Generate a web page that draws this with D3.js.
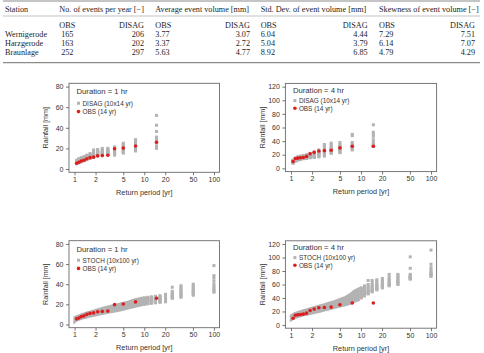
<!DOCTYPE html>
<html lang="en">
<head>
<meta charset="utf-8">
<title>Event statistics and return periods</title>
<style>
  body { margin: 0; background: #fff; }
  svg { display: block; }
  .tab text { font-family: "Liberation Serif", "Times New Roman", serif; font-size: 8.2px; fill: #1e1e1e; }
  .plt text { font-family: "Liberation Sans", Arial, sans-serif; fill: #333; }
</style>
<script src="https://d3js.org/d3.v7.min.js"></script>
</head>
<body>
<script>
// ---- table data ----
let stations = ["Wernigerode", "Harzgerode", "Braunlage"]
let statHeaders = ["No. of events per year [−]", "Average event volume [mm]", "Std. Dev. of event volume [mm]", "Skewness of event volume [−]"]
let nEventsObs = [165, 163, 252]
let nEventsDisag = [206, 202, 297]
let avgObs = [3.77, 3.37, 5.63]
let avgDisag = [3.07, 2.72, 4.77]
let sdObs = [6.04, 5.04, 8.92]
let sdDisag = [4.44, 3.79, 6.85]
let skewObs = [7.29, 6.14, 4.79]
let skewDisag = [7.51, 7.07, 4.29]

// ---- plot data ----
let xTicks = [1, 2, 5, 10, 20, 50, 100]
let yTicks80 = [0, 20, 40, 60, 80]
let yTicks120 = [0, 20, 40, 60, 80, 100, 120]

// return periods of the 14 observed years
let obsT = [15, 7.5, 5, 3.75, 3, 2.5, 2.143, 1.875, 1.667, 1.5, 1.364, 1.25, 1.154, 1.071]
let obs1h = [26, 22.4, 20.3, 19.7, 13.3, 13, 12.7, 11.5, 11, 10, 8.5, 7.8, 6.5, 5.6]
let obs4h = [32.5, 32.5, 30, 26.5, 26, 25.5, 23.5, 21.5, 17.5, 16, 15.5, 15, 14.5, 10]

// DISAG, 10 realisations per return period
let disag1h = [
  [52, 42.5, 36.5, 31, 29, 27, 25, 22, 21, 20],
  [28.5, 27, 25.5, 24, 23, 21.5, 20.5, 19.5, 18.5, 17.5],
  [25, 24, 22.5, 21.5, 20, 19, 18, 17, 16, 15.5],
  [21.5, 20.5, 19.5, 18.5, 17.5, 16.5, 15.5, 15, 14, 13.5],
  [20, 19, 18, 17.5, 17, 16.5, 16, 15, 14.5, 14],
  [20, 19, 18, 17, 16.5, 16, 15.5, 15, 14, 13.5],
  [19, 18, 17, 16.5, 16, 15.5, 15, 14, 13.5, 13],
  [18.5, 17, 15, 14.5, 14, 13.5, 13, 12.5, 12, 11.5],
  [15, 14, 13.5, 13, 12.5, 12, 11.5, 11, 10.5, 10.5],
  [13.5, 13, 12.5, 12, 11.5, 11, 10.5, 10, 9.5, 9],
  [12, 11.5, 11, 10.5, 10, 9.5, 9, 8.5, 8.5, 8],
  [11, 10.5, 10, 9.5, 9, 8.5, 8, 7.5, 7.5, 7],
  [10, 9.5, 9, 8.5, 8, 7.5, 7, 6.5, 6.5, 6],
  [8.5, 8, 7.5, 7, 6.5, 6, 6, 5.5, 5.5, 5]
]
let disag4h = [
  [64, 53, 50, 47, 42, 38, 36, 34, 33, 32],
  [50, 48, 38, 36, 34, 33, 31, 30, 28, 27],
  [38, 35, 33, 31, 30, 28, 27, 25, 24, 23],
  [37, 35, 32, 30, 28, 27, 26, 24, 23, 22],
  [35, 32, 30, 28, 26, 25, 23, 21, 20, 18],
  [27, 25, 24, 23, 22, 21, 20, 19, 18, 17],
  [24, 23, 22, 21, 20, 19, 18, 17, 16.5, 16],
  [22, 21, 20, 19, 18.5, 18, 17, 16.5, 16, 15.5],
  [20, 19, 18.5, 18, 17, 16.5, 16, 15.5, 15, 14.5],
  [19, 18, 17.5, 17, 16.5, 16, 15.5, 15, 14.5, 14],
  [18, 17, 16.5, 16, 15.5, 15, 14.5, 14, 13.5, 13],
  [17, 16, 15.5, 15, 14.5, 14, 13.5, 13, 12.5, 12],
  [15, 14.5, 14, 13.5, 13, 12.5, 12, 11.5, 11, 10.5],
  [12, 11.5, 11, 10.5, 10, 9.5, 9, 8.5, 8, 7.5]
]

// STOCH, the 10 largest ranks of 100 years, 10 realisations each
let stochT = [100, 50.5, 33.67, 25.25, 20.2, 16.83, 14.43, 12.63, 11.22, 10.1]
let stoch1h = [
  [58.5, 48.5, 46, 43, 40, 38, 36, 34.5, 33, 32],
  [40, 38.5, 37, 35.5, 34, 33, 32, 31, 30, 29],
  [38.5, 37, 35.5, 34, 32.5, 31, 30, 29, 28, 27],
  [37, 33, 31.5, 30, 29, 28, 27.5, 27, 26.5, 26],
  [30, 29, 28, 27, 26, 25.5, 25, 24, 23, 22.5],
  [28.5, 28, 27, 26, 25, 24.5, 24, 23, 22.5, 22],
  [28, 27, 26, 25.5, 25, 24, 23.5, 23, 22, 21.5],
  [27.5, 26.5, 26, 25, 24.5, 24, 23, 22.5, 21.5, 21],
  [27, 26, 25.5, 25, 24, 23.5, 22.5, 22, 21, 20.5],
  [26.5, 25.5, 25, 24.5, 23.5, 23, 22, 21.5, 20.5, 20]
]
let stoch4h = [
  [111, 90, 85, 82, 79, 77, 75, 74, 73, 72],
  [101, 84, 75, 73, 72, 71, 70, 69, 68.5, 68],
  [75, 73, 71, 69, 67, 65.5, 64, 62.5, 61, 60],
  [75, 71, 68, 66, 64, 62.5, 61, 60, 59, 58],
  [69, 67, 65, 63, 61, 59.5, 58, 57, 56, 55],
  [67, 65, 62, 60, 58.5, 57, 55.5, 54, 53, 52],
  [66, 63, 60, 58, 56, 54, 52.5, 51, 50, 49],
  [66, 60, 57, 55, 53, 51, 49.5, 48, 47, 46],
  [58, 55, 53, 51, 49.5, 48, 46.5, 45, 44, 43],
  [55, 53, 51, 49, 47, 45.5, 44, 42.5, 41, 40]
]
// remaining 90 ranks merge into a band: lower / upper edge read at these return periods
let bandT = [9.18, 8, 7, 6, 5, 4, 3, 2.5, 2, 1.7, 1.5, 1.3, 1.15, 1.05, 1.01]
let band1hLo = [19.5, 18.5, 17.5, 16.5, 15, 13.5, 12, 11, 9.5, 8.5, 7.5, 6.5, 5, 4, 3]
let band1hHi = [26, 25, 24, 22.5, 21, 19.5, 17.5, 16, 14, 12.5, 11.5, 10, 8.5, 7.5, 7]
let band4hLo = [37, 35, 32, 30, 28, 25.5, 22, 20, 17.5, 16, 15, 13, 11, 9, 8]
let band4hHi = [53, 50, 45, 41, 38, 34, 30, 28, 25, 22.5, 21, 19, 17, 15, 14]

let width = 484
let height = 353
let gray = "#b3b3b3"
let red = "#dc1e1e"

let svg = d3.select("body").append("svg")
  .attr("width", width)
  .attr("height", height)

// ---------------- table ----------------
let drawTable = () => {
  let t = svg.append("g").attr("class", "tab")
  let fmt = d3.format(".2f")
  let groups = [
    {x0: 59.3, x1: 144, obs: nEventsObs, dis: nEventsDisag, f: d3.format("d"), mid: true},
    {x0: 155.3, x1: 250, obs: avgObs, dis: avgDisag, f: fmt},
    {x0: 260.7, x1: 367.7, obs: sdObs, dis: sdDisag, f: fmt},
    {x0: 379, x1: 475, obs: skewObs, dis: skewDisag, f: fmt}
  ]
  let rowY = [37, 46.2, 55.4]

  t.append("line").attr("x1", 3).attr("x2", 480).attr("y1", 1).attr("y2", 1)
    .attr("stroke", "#8a8a8a").attr("stroke-width", 1)
  t.append("line").attr("x1", 3).attr("x2", 480).attr("y1", 16).attr("y2", 16)
    .attr("stroke", "#9a9a9a").attr("stroke-width", 0.6)
  t.append("line").attr("x1", 3).attr("x2", 480).attr("y1", 62.6).attr("y2", 62.6)
    .attr("stroke", "#8a8a8a").attr("stroke-width", 1.4)

  t.append("text").attr("x", 5).attr("y", 12).text("Station")
  stations.forEach((s, i) => t.append("text").attr("x", 5).attr("y", rowY[i]).text(s))

  groups.forEach((g, k) => {
    t.append("text").attr("x", g.x0).attr("y", 12).text(statHeaders[k])
    t.append("text").attr("x", g.x0).attr("y", 27.8).text("OBS")
    t.append("text").attr("x", g.x1).attr("y", 27.8).attr("text-anchor", "end").text("DISAG")
    g.obs.forEach((v, i) => {
      t.append("text")
        .attr("x", g.mid ? g.x0 + 8 : g.x0)
        .attr("y", rowY[i])
        .attr("text-anchor", g.mid ? "middle" : "start")
        .text(g.f(v))
    })
    g.dis.forEach((v, i) => {
      t.append("text").attr("x", g.x1).attr("y", rowY[i]).attr("text-anchor", "end").text(g.f(v))
    })
  })
}

// ---------------- panels ----------------
let drawPanel = (p) => {
  let g = svg.append("g").attr("class", "plt")
  let x = d3.scaleLog()
    .domain([Math.pow(10, -0.08), Math.pow(10, 2.08)])
    .range([p.left, p.left + p.w])
  let y = d3.scaleLinear()
    .domain([-0.04 * p.ymax, 1.04 * p.ymax])
    .range([p.top + p.h, p.top])

  // band of the lower ranks (stochastic panels only)
  if (p.band) {
    let bd = bandT.map((t, i) => ({t: t, lo: p.band[0][i], hi: p.band[1][i]}))
    let area = d3.area()
      .x(d => x(d.t))
      .y0(d => y(d.lo))
      .y1(d => y(d.hi))
    g.append("path")
      .datum(bd)
      .attr("d", area)
      .attr("fill", gray)
      .attr("stroke", gray)
      .attr("stroke-width", 3)
      .attr("stroke-linejoin", "miter")
  }

  // gray squares
  let sq = []
  p.simT.forEach((t, i) => p.sim[i].forEach(v => sq.push([t, v])))
  g.selectAll(".sq")
    .data(sq)
    .enter()
    .append("rect")
    .attr("class", "sq")
    .attr("x", d => x(d[0]) - 1.5)
    .attr("y", d => y(d[1]) - 1.5)
    .attr("width", 3)
    .attr("height", 3)
    .attr("fill", gray)

  // observed
  g.selectAll(".obs")
    .data(obsT.map((t, i) => [t, p.obs[i]]))
    .enter()
    .append("circle")
    .attr("class", "obs")
    .attr("cx", d => x(d[0]))
    .attr("cy", d => y(d[1]))
    .attr("r", 1.8)
    .attr("fill", red)

  // frame
  g.append("rect")
    .attr("x", p.left).attr("y", p.top)
    .attr("width", p.w).attr("height", p.h)
    .attr("fill", "none")
    .attr("stroke", "#6a6a6a")
    .attr("stroke-width", 0.9)

  let xAxis = d3.axisBottom(x).tickValues(xTicks).tickFormat(d3.format("d"))
    .tickSize(3).tickPadding(1.4)
  let yAxis = d3.axisLeft(y).tickValues(p.yTicks).tickSize(3).tickPadding(2.5)

  let xa = g.append("g").attr("transform", `translate(0, ${p.top + p.h})`).call(xAxis)
  let ya = g.append("g").attr("transform", `translate(${p.left}, 0)`).call(yAxis)
  ;[xa, ya].forEach(a => {
    a.select(".domain").remove()
    a.selectAll("line").attr("stroke", "#555").attr("stroke-width", 0.8)
    a.selectAll("text").attr("fill", "#333").style("font-size", "7px")
      .style("font-family", "'Liberation Sans', Arial, sans-serif")
  })

  g.append("text")
    .attr("x", p.left + p.w / 2)
    .attr("y", p.top + p.h + 22.6)
    .attr("text-anchor", "middle")
    .style("font-size", "7.3px")
    .text("Return period [yr]")
  g.append("text")
    .attr("transform", `translate(${p.left - 20.6}, ${p.top + p.h / 2}) rotate(-90)`)
    .attr("text-anchor", "middle")
    .style("font-size", "7.1px")
    .text("Rainfall [mm]")

  // legend
  let lx = p.left
  g.append("text").attr("x", lx + 7.5).attr("y", p.top + p.leg[0] + 2.7)
    .style("font-size", "7.7px").text(p.title)
  g.append("rect").attr("x", lx + 9.5 - 1.5).attr("y", p.top + p.leg[1] - 1.5)
    .attr("width", 3).attr("height", 3).attr("fill", gray)
  g.append("text").attr("x", lx + 13.5).attr("y", p.top + p.leg[1] + 2.3)
    .style("font-size", "6.4px").text(p.simLabel)
  g.append("circle").attr("cx", lx + 9.5).attr("cy", p.top + p.leg[2])
    .attr("r", 1.8).attr("fill", red)
  g.append("text").attr("x", lx + 13.5).attr("y", p.top + p.leg[2] + 2.3)
    .style("font-size", "6.4px").text("OBS (14 yr)")
}

drawTable()

drawPanel({left: 69, top: 83.3, w: 150.5, h: 89, ymax: 80, yTicks: yTicks80,
  simT: obsT, sim: disag1h, obs: obs1h, title: "Duration = 1 hr",
  simLabel: "DISAG (10x14 yr)", leg: [8.3, 19.9, 28.3]})
drawPanel({left: 285.4, top: 83.4, w: 151.2, h: 88.2, ymax: 120, yTicks: yTicks120,
  simT: obsT, sim: disag4h, obs: obs4h, title: "Duration = 4 hr",
  simLabel: "DISAG (10x14 yr)", leg: [6.7, 17.2, 24.9]})
drawPanel({left: 69, top: 240.7, w: 150.5, h: 87, ymax: 80, yTicks: yTicks80,
  simT: stochT, sim: stoch1h, obs: obs1h, band: [band1hLo, band1hHi], title: "Duration = 1 hr",
  simLabel: "STOCH (10x100 yr)", leg: [8.4, 19.5, 27.7]})
drawPanel({left: 285.4, top: 240.8, w: 151.2, h: 87.4, ymax: 120, yTicks: yTicks120,
  simT: stochT, sim: stoch4h, obs: obs4h, band: [band4hLo, band4hHi], title: "Duration = 4 hr",
  simLabel: "STOCH (10x100 yr)", leg: [6.7, 16.8, 24.5]})
</script>
</body>
</html>
